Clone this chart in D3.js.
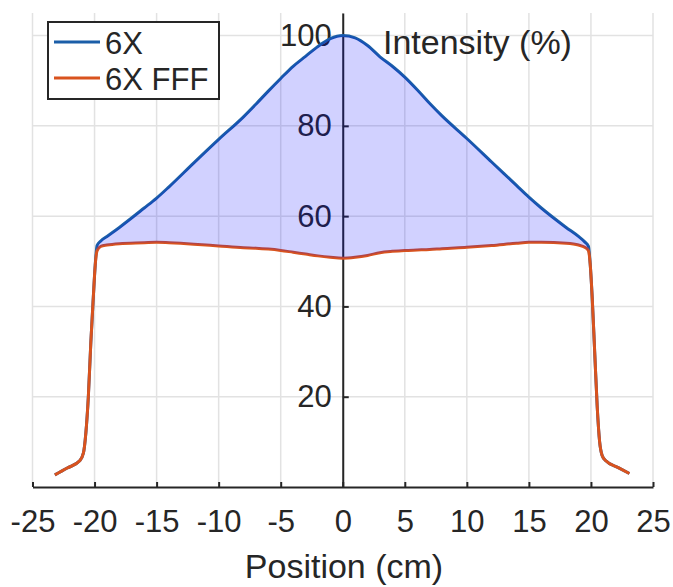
<!DOCTYPE html>
<html>
<head>
<meta charset="UTF-8">
<style>
  body { margin: 0; background: #fff; }
  text { font-family: "Liberation Sans", Arial, Helvetica, sans-serif; fill: #262626; }
  .grid line { stroke: #e2e2e2; stroke-width: 1.5; }
  .axis path, .axis line { stroke: #262626; stroke-width: 2; }
</style>
</head>
<body>
<svg id="chart" width="673" height="587"></svg>
<script src="https://d3js.org/d3.v7.min.js"></script>
<script>
// positions (cm), shared by both profiles
const positions = [-23.2,-22.2,-21.2,-20.9,-20.7,-20.5,-20.3,-20.1,-19.95,-19.8,-19.5,-19,-18,-16,-15,-14,-12,-10,-8,-7,-6,-5,-4,-3,-2,-1,0,
                   1,2,3,4,5,6,7,8,10,12,14,15,16,18,19,19.5,19.8,19.95,20.1,20.3,20.5,20.7,20.9,21.2,22.2,23.1];
// 6X (flattened) intensity %
const int6x = [2.7,4.2,5.8,7.5,12,20,32,42,49,53.5,54.5,55.5,57.5,61.8,64,66.5,71.8,77,82,84.8,87.7,90.5,93.2,95.4,97.6,99.3,100,
               99.5,97.8,95.3,93.2,90.8,88,85,82.2,77.2,72,66.8,64.2,61.8,57.5,55.5,54.3,53.3,49,42,30,18,10,7,5.8,4.3,3.0];
// 6X FFF intensity %
const int6xFFF = [2.7,4.2,5.8,7.5,12,20,32,42,49,52.3,53.3,53.6,53.9,54.1,54.2,54.1,53.8,53.4,53.0,52.9,52.7,52.4,52.0,51.6,51.2,50.9,50.7,
                  50.9,51.3,51.9,52.2,52.4,52.5,52.6,52.8,53.1,53.5,54.0,54.2,54.2,54.0,53.6,53.1,52.3,49,42,30,18,10,7,5.8,4.3,3.0];
const seriesNames = ["6X", "6X FFF"];
const seriesColors = ["#1b5ea8", "#d9531e"];
const xTicks = [-25,-20,-15,-10,-5,0,5,10,15,20,25];
const yTicks = [20,40,60,80,100];

const svg = d3.select("#chart");
const x = d3.scaleLinear().domain([-25, 25]).range([32.5, 653]);
const y = d3.scaleLinear().domain([0, 105]).range([487, 13]);

// grid
svg.append("g").attr("class", "grid")
  .selectAll("line").data(xTicks).enter().append("line")
  .attr("x1", d => x(d)).attr("x2", d => x(d))
  .attr("y1", y(105)).attr("y2", y(0));
svg.append("g").attr("class", "grid")
  .selectAll("line").data(yTicks).enter().append("line")
  .attr("x1", x(-25)).attr("x2", x(25))
  .attr("y1", d => y(d)).attr("y2", d => y(d));

// axes (plain hyphen for negatives, like the original)
const xAxis = svg.append("g").attr("class", "axis")
  .attr("transform", "translate(0," + y(0) + ")")
  .call(d3.axisBottom(x).tickValues(xTicks).tickFormat(d => String(d))
    .tickSizeInner(-5).tickSizeOuter(0).tickPadding(23));
const yAxis = svg.append("g").attr("class", "axis")
  .attr("transform", "translate(" + x(0) + ",0)")
  .call(d3.axisLeft(y).tickValues(yTicks).tickFormat(d => String(d))
    .tickSizeInner(-6).tickSizeOuter(0).tickPadding(11));
svg.selectAll(".axis text").attr("font-size", 31).attr("fill", "#262626")
  .style("font-family", "'Liberation Sans', Arial, sans-serif");

// labels
svg.append("text").attr("x", 383).attr("y", 54).attr("font-size", 34).text("Intensity (%)");
svg.append("text").attr("x", 344).attr("y", 578).attr("font-size", 34)
  .attr("text-anchor", "middle").text("Position (cm)");

// lines
const pts6x = positions.map((p, i) => [p, int6x[i]]);
const ptsFFF = positions.map((p, i) => [p, int6xFFF[i]]);
const line = d3.line().x(d => x(d[0])).y(d => y(d[1])).curve(d3.curveMonotoneX);
svg.append("path").datum(pts6x).attr("d", line)
  .attr("fill", "none").attr("stroke", seriesColors[0]).attr("stroke-width", 3);
svg.append("path").datum(ptsFFF).attr("d", line)
  .attr("fill", "none").attr("stroke", seriesColors[1]).attr("stroke-width", 3);

// shaded difference between the two profiles
const band = positions.map((p, i) => ({ p, hi: int6x[i], lo: int6xFFF[i] }))
  .filter(d => d.p >= -19.8 && d.p <= 19.8);
const area = d3.area().x(d => x(d.p)).y0(d => y(d.lo)).y1(d => y(d.hi)).curve(d3.curveMonotoneX);
svg.append("path").datum(band).attr("d", area)
  .attr("fill", "rgb(0,0,255)").attr("fill-opacity", 0.18).attr("stroke", "none");

// legend
const lg = svg.append("g");
lg.append("rect").attr("x", 48).attr("y", 22).attr("width", 171).attr("height", 77)
  .attr("fill", "#fff").attr("stroke", "#262626").attr("stroke-width", 2);
seriesNames.forEach((name, i) => {
  const ly = 42 + i * 36;
  lg.append("line").attr("x1", 54).attr("x2", 100).attr("y1", ly).attr("y2", ly)
    .attr("stroke", seriesColors[i]).attr("stroke-width", 3);
  lg.append("text").attr("x", 105).attr("y", ly + 12).attr("font-size", 31).text(name);
});
</script>
</body>
</html>
